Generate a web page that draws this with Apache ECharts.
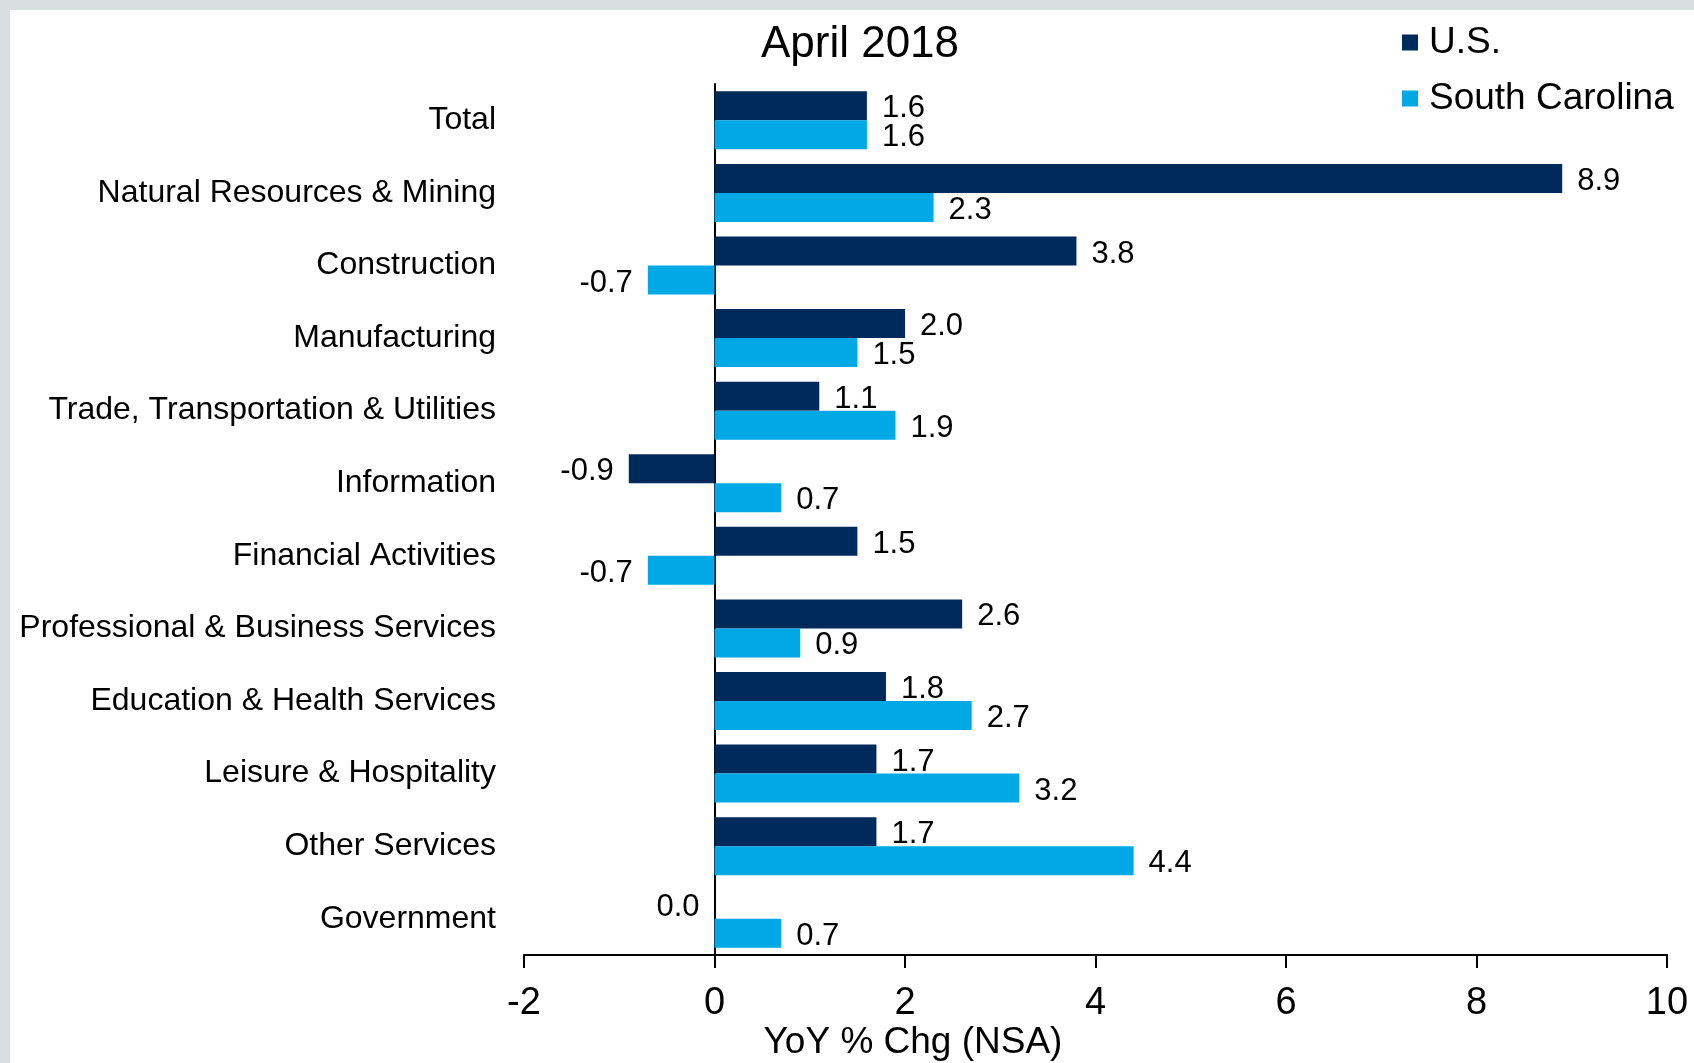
<!DOCTYPE html>
<html>
<head>
<meta charset="utf-8">
<script src="https://cdn.jsdelivr.net/npm/echarts@6/dist/echarts.min.js"></script>
<style>
  html, body { margin: 0; padding: 0; background: #fff; }
  #chart { width: 1694px; height: 1063px; }
</style>
</head>
<body>
<div id="chart"></div>
<script>
// data
var categories = [
  'Total',
  'Natural Resources & Mining',
  'Construction',
  'Manufacturing',
  'Trade, Transportation & Utilities',
  'Information',
  'Financial Activities',
  'Professional & Business Services',
  'Education & Health Services',
  'Leisure & Hospitality',
  'Other Services',
  'Government'
];
var usValues = [1.6, 8.9, 3.8, 2.0, 1.1, -0.9, 1.5, 2.6, 1.8, 1.7, 1.7, 0.0];
var scValues = [1.6, 2.3, -0.7, 1.5, 1.9, 0.7, -0.7, 0.9, 2.7, 3.2, 4.4, 0.7];
var xTicks = [-2, 0, 2, 4, 6, 8, 10];

var FONT = '"Liberation Sans", Arial, sans-serif';

function toBars (vals) {
  // labels go outside the bar end, left side for non-positive values
  return vals.map(function (v) {
    return {
      value: v,
      label: { position: v <= 0 ? 'left' : 'right' }
    };
  });
}

var chart = echarts.init(document.getElementById('chart'));

var option = {
  animation: false,
  backgroundColor: '#fff',
  textStyle: { fontFamily: FONT },
  grid: { left: 524, right: 27, top: 84, bottom: 108, outerBoundsMode: 'none', containLabel: false },
  legend: {
    orient: 'vertical',
    left: 1397,
    top: 19,
    itemWidth: 16,
    itemHeight: 16,
    itemGap: 19,
    icon: 'rect',
    textStyle: { fontSize: 37, color: '#000', fontFamily: FONT, padding: [0, 0, 0, 6] },
    data: ['U.S.', 'South Carolina']
  },
  xAxis: {
    type: 'value',
    min: xTicks[0],
    max: xTicks[xTicks.length - 1],
    interval: 2,
    splitLine: { show: false },
    axisLine: { show: true, lineStyle: { color: '#000', width: 2 } },
    axisTick: { show: true, length: 13, lineStyle: { color: '#000', width: 2 } },
    axisLabel: { fontSize: 38, color: '#000', margin: 30, fontFamily: FONT }
  },
  yAxis: {
    type: 'category',
    inverse: true,
    data: categories,
    axisLine: { onZero: true, lineStyle: { color: '#000', width: 2 } },
    axisTick: { length: 9, lineStyle: { color: '#000', width: 1.5 } },
    axisLabel: { fontSize: 32, color: '#000', margin: 28, fontFamily: FONT, padding: [4, 0, 0, 0] }
  },
  series: [
    {
      name: 'U.S.',
      type: 'bar',
      barWidth: 29,
      barGap: '0%',
      itemStyle: { color: '#002A5C' },
      label: {
        show: true,
        distance: 15,
        offset: [0, 3],
        fontSize: 31,
        color: '#000',
        fontFamily: FONT,
        formatter: function (p) { return p.value.toFixed(1); }
      },
      data: toBars(usValues)
    },
    {
      name: 'South Carolina',
      type: 'bar',
      barWidth: 29,
      barGap: '0%',
      itemStyle: { color: '#00A9E6' },
      label: {
        show: true,
        distance: 15,
        offset: [0, 3],
        fontSize: 31,
        color: '#000',
        fontFamily: FONT,
        formatter: function (p) { return p.value.toFixed(1); }
      },
      data: toBars(scValues)
    }
  ],
  graphic: [
    // grey frame on top and left edges
    { type: 'rect', shape: { x: 0, y: 0, width: 1694, height: 10 }, style: { fill: '#D9DEDF' } },
    { type: 'rect', shape: { x: 0, y: 0, width: 10, height: 1063 }, style: { fill: '#D9DEDF' } },
    {
      type: 'text', x: 860, y: 45,
      style: { text: 'April 2018', font: '44px ' + FONT, fill: '#000', align: 'center', verticalAlign: 'middle' }
    },
    {
      type: 'text', x: 913, y: 1043,
      style: { text: 'YoY % Chg (NSA)', font: '37px ' + FONT, fill: '#000', align: 'center', verticalAlign: 'middle' }
    }
  ]
};

chart.setOption(option);
</script>
</body>
</html>
